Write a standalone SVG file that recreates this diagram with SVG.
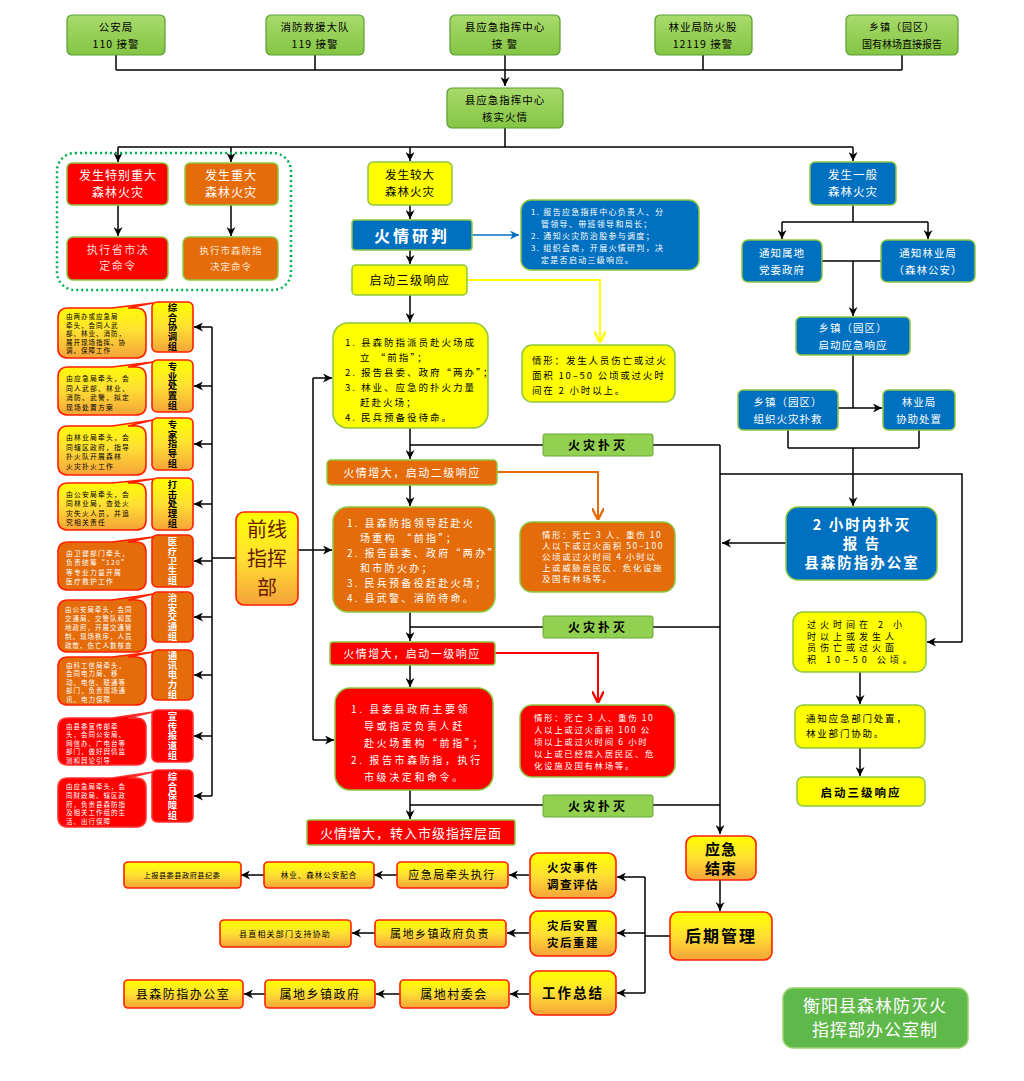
<svg xmlns="http://www.w3.org/2000/svg" width="1024" height="1081" viewBox="0 0 1024 1081">
<defs>
<linearGradient id="gGreen" x1="0" y1="0" x2="0" y2="1"><stop offset="0" stop-color="#A9DB6C"/><stop offset="1" stop-color="#84C444"/></linearGradient>
<linearGradient id="gYO" x1="0" y1="0" x2="0" y2="1"><stop offset="0" stop-color="#FFFF00"/><stop offset="0.5" stop-color="#FFE033"/><stop offset="1" stop-color="#F5A33A"/></linearGradient>
<marker id="ah" viewBox="0 0 10 10" refX="10" refY="5" markerWidth="9" markerHeight="9" markerUnits="userSpaceOnUse" orient="auto"><path d="M0,0 L10,5 L0,10 L3,5 Z" fill="#000"/></marker>
<marker id="ahB" viewBox="0 0 10 10" refX="10" refY="5" markerWidth="9" markerHeight="9" markerUnits="userSpaceOnUse" orient="auto"><path d="M0,0 L10,5 L0,10 L3,5 Z" fill="#0070C0"/></marker>
<marker id="ahY" viewBox="0 0 10 10" refX="10" refY="5" markerWidth="12" markerHeight="12" markerUnits="userSpaceOnUse" orient="auto"><path d="M0,0 L10,5 L0,10" fill="none" stroke="#FFFF00" stroke-width="2"/></marker>
<marker id="ahO" viewBox="0 0 10 10" refX="10" refY="5" markerWidth="12" markerHeight="12" markerUnits="userSpaceOnUse" orient="auto"><path d="M0,0 L10,5 L0,10" fill="none" stroke="#E46C0A" stroke-width="2"/></marker>
<marker id="ahR" viewBox="0 0 10 10" refX="10" refY="5" markerWidth="12" markerHeight="12" markerUnits="userSpaceOnUse" orient="auto"><path d="M0,0 L10,5 L0,10" fill="none" stroke="#FF0000" stroke-width="2"/></marker>
</defs>
<style>
text { font-family: "Noto Sans CJK SC", "Noto Sans", sans-serif; }
.c { stroke:#000; stroke-width:1.5; fill:none; }
.a { marker-end:url(#ah); }
.gbox { fill:url(#gGreen); stroke:#5A9E32; stroke-width:1.2; }
.ybox { fill:#FFFF00; stroke:#8DC63F; stroke-width:1.5; }
.obox { fill:#E46C0A; stroke:#8DC63F; stroke-width:1.5; }
.rbox { fill:#FF0000; stroke:#8DC63F; stroke-width:1.5; }
.bbox { fill:#0070C0; stroke:#8DC63F; stroke-width:1.5; }
.pbox { fill:url(#gYO); stroke:#FF2000; stroke-width:1.6; }
.po { fill:#E46C0A; stroke:#FF2000; stroke-width:1.6; }
.pr { fill:#FF0000; stroke:#FF3030; stroke-width:1.6; }
.fg { fill:#92D050; stroke:#6AA83A; stroke-width:1; }
.w { fill:#FFFFFF; }
.k { fill:#000000; }
.m { text-anchor:middle; }
.b { font-weight:bold; }
.v { writing-mode:vertical-rl; text-anchor:middle; font-size:9.4px; font-weight:bold; letter-spacing:0.3px; }
.cl { font-size:6.8px; letter-spacing:1.2px; }
.cl5 { font-size:6.5px; letter-spacing:1px; }
</style>

<g id="connectors">
  <path class="c" d="M116,55 V70 M315,55 V70 M703,55 V70 M902,55 V70 M116,70 H902"/>
  <path class="c a" d="M505,55 V86"/>
  <path class="c" d="M505,128 V147 M118,147 H853"/>
  <path class="c a" d="M118,147 V162"/>
  <path class="c a" d="M231,147 V162"/>
  <path class="c a" d="M410,147 V161"/>
  <path class="c a" d="M853,147 V161"/>
  <path class="c a" d="M118,205 V236"/>
  <path class="c a" d="M231,205 V236"/>
  <path class="c a" d="M410,205 V219"/>
  <path d="M472,235 H519" stroke="#0070C0" stroke-width="1.5" fill="none" marker-end="url(#ahB)"/>
  <path class="c a" d="M410,250 V264"/>
  <path d="M467,280 H600 V343" stroke="#FFFF00" stroke-width="2" fill="none" marker-end="url(#ahY)"/>
  <path class="c a" d="M410,295 V322"/>
  <path class="c a" d="M410,428 V459"/>
  <path class="c" d="M410,445 H720"/>
  <path class="c a" d="M720,445 V834"/>
  <path d="M497,472 H598 V520" stroke="#E46C0A" stroke-width="2" fill="none" marker-end="url(#ahO)"/>
  <path class="c a" d="M410,485 V506"/>
  <path class="c a" d="M410,612 V641"/>
  <path class="c" d="M410,627 H720"/>
  <path d="M495,653 H598 V703" stroke="#FF0000" stroke-width="2" fill="none" marker-end="url(#ahR)"/>
  <path class="c a" d="M410,665 V687"/>
  <path class="c a" d="M410,790 V819"/>
  <path class="c" d="M410,805 H720"/>
  <path class="c" d="M313,378 V740 M298,550 H313"/>
  <path class="c a" d="M313,378 H332"/>
  <path class="c a" d="M313,550 H332"/>
  <path class="c a" d="M313,740 H334"/>
  <path class="c" d="M212,327 V796 M236,558 H212"/>
  <path class="c a" d="M212,327 H194"/>
  <path class="c a" d="M212,386 H194"/>
  <path class="c a" d="M212,444 H194"/>
  <path class="c a" d="M212,504 H194"/>
  <path class="c a" d="M212,561 H194"/>
  <path class="c a" d="M212,617 H194"/>
  <path class="c a" d="M212,675 H194"/>
  <path class="c a" d="M212,736 H194"/>
  <path class="c a" d="M212,796 H194"/>
  <path class="c" d="M853,205 V222 M782,222 H928"/>
  <path class="c a" d="M782,222 V239"/>
  <path class="c a" d="M928,222 V239"/>
  <path class="c" d="M822,261 H881"/>
  <path class="c a" d="M853,261 V316"/>
  <path class="c" d="M853,355 V408 M838,408 H853"/>
  <path class="c a" d="M853,408 H882"/>
  <path class="c" d="M788,430 V448 M919,430 V448 M788,448 H919"/>
  <path class="c a" d="M853,448 V506"/>
  <path class="c" d="M720,474 H962 V642"/>
  <path class="c a" d="M962,642 H927"/>
  <path class="c a" d="M786,543 H722"/>
  <path class="c a" d="M860,672 V704"/>
  <path class="c a" d="M860,748 V776"/>
  <path class="c a" d="M720,880 V911"/>
  <path class="c" d="M670,936 H645 M645,877 V993"/>
  <path class="c a" d="M645,877 H617"/>
  <path class="c a" d="M645,933 H617"/>
  <path class="c a" d="M645,993 H617"/>
  <path class="c a" d="M529,875 H509"/>
  <path class="c a" d="M397,875 H374"/>
  <path class="c a" d="M264,875 H241"/>
  <path class="c a" d="M529,933 H507"/>
  <path class="c a" d="M375,933 H352"/>
  <path class="c a" d="M529,994 H510"/>
  <path class="c a" d="M400,994 H376"/>
  <path class="c a" d="M265,994 H244"/>
</g>

<g id="n-110"><rect class="gbox" x="67" y="15" width="98" height="40" rx="5"/><text class="k m" x="116" y="31" font-size="10.5" letter-spacing="1">公安局</text><text class="k m" x="116" y="48" font-size="10.5" letter-spacing="1">110 接警</text></g>
<g id="n-119"><rect class="gbox" x="266" y="15" width="98" height="40" rx="5"/><text class="k m" x="315" y="31" font-size="10.5" letter-spacing="1">消防救援大队</text><text class="k m" x="315" y="48" font-size="10.5" letter-spacing="1">119 接警</text></g>
<g id="n-center"><rect class="gbox" x="450" y="15" width="110" height="40" rx="5"/><text class="k m" x="505" y="31" font-size="10.5" letter-spacing="1">县应急指挥中心</text><text class="k m" x="505" y="48" font-size="10.5" letter-spacing="1">接  警</text></g>
<g id="n-12119"><rect class="gbox" x="655" y="15" width="97" height="40" rx="5"/><text class="k m" x="703" y="31" font-size="10.5" letter-spacing="1">林业局防火股</text><text class="k m" x="703" y="48" font-size="10.5" letter-spacing="1">12119 接警</text></g>
<g id="n-town"><rect class="gbox" x="846" y="15" width="112" height="40" rx="5"/><text class="k m" x="902" y="31" font-size="10" letter-spacing="1">乡镇（园区）</text><text class="k m" x="902" y="48" font-size="10">国有林场直接报告</text></g>
<g id="n-verify"><rect class="gbox" x="447" y="88" width="116" height="40" rx="5"/><text class="k m" x="505" y="104" font-size="10.5" letter-spacing="1">县应急指挥中心</text><text class="k m" x="505" y="121" font-size="10.5" letter-spacing="1">核实火情</text></g>

<g id="n-group-major"><rect x="57" y="153" width="234" height="137" rx="18" fill="none" stroke="#00B050" stroke-width="2.5" stroke-dasharray="2 3"/></g>
<g id="n-tebie"><rect class="rbox" x="67" y="163" width="101" height="42" rx="5" stroke="#C00000" stroke-width="0.8"/><text class="w m" x="118" y="180" font-size="12" letter-spacing="1">发生特别重大</text><text class="w m" x="118" y="197" font-size="12" letter-spacing="1">森林火灾</text></g>
<g id="n-zhongda"><rect class="obox" x="185" y="163" width="93" height="42" rx="5" stroke="#C06000" stroke-width="0.8"/><text class="w m" x="231" y="180" font-size="12" letter-spacing="1">发生重大</text><text class="w m" x="231" y="197" font-size="12" letter-spacing="1">森林火灾</text></g>
<g id="n-prov"><rect class="rbox" x="67" y="237" width="101" height="43" rx="6" stroke="#C00000" stroke-width="0.8"/><text class="m" fill="#FFD8D8" x="118" y="254" font-size="11" letter-spacing="1.5">执行省市决</text><text class="m" fill="#FFD8D8" x="118" y="270" font-size="11" letter-spacing="1.5">定命令</text></g>
<g id="n-city"><rect class="obox" x="183" y="237" width="95" height="43" rx="6" stroke="#C06000" stroke-width="0.8"/><text class="m" fill="#FFE6D0" x="231" y="254" font-size="9.5" letter-spacing="1">执行市森防指</text><text class="m" fill="#FFE6D0" x="231" y="270" font-size="9.5" letter-spacing="1">决定命令</text></g>

<g id="n-jiaoda"><rect class="ybox" x="368" y="162" width="84" height="43" rx="5"/><text class="k m" x="410" y="179" font-size="11.5" letter-spacing="1">发生较大</text><text class="k m" x="410" y="196" font-size="11.5" letter-spacing="1">森林火灾</text></g>
<g id="n-yanpan"><rect class="bbox" x="352" y="220" width="120" height="30" rx="3"/><text class="w m b" x="412" y="242" font-size="16" letter-spacing="3">火情研判</text></g>
<g id="n-yanpan-info"><rect class="bbox" x="521" y="200" width="178" height="70" rx="10"/>
<text class="w" font-size="8" letter-spacing="1.3"><tspan x="531" y="215">1. 报告应急指挥中心负责人、分</tspan><tspan x="541" y="227">管领导、带班领导和局长；</tspan><tspan x="531" y="239">2. 通知火灾防治股参与调度；</tspan><tspan x="531" y="251">3. 组织会商，开展火情研判，决</tspan><tspan x="541" y="263">定是否启动三级响应。</tspan></text></g>
<g id="n-lv3"><rect class="ybox" x="352" y="265" width="115" height="30" rx="4"/><text class="k m" x="410" y="285" font-size="12" letter-spacing="1.5">启动三级响应</text></g>
<g id="n-lv3-cond"><rect class="ybox" x="522" y="345" width="153" height="57" rx="10"/>
<text class="k" font-size="9.5" letter-spacing="1.8"><tspan x="532" y="364">情形：发生人员伤亡或过火</tspan><tspan x="532" y="379">面积 10–50 公顷或过火时</tspan><tspan x="532" y="394">间在 2 小时以上。</tspan></text></g>
<g id="n-lv3-act"><rect class="ybox" x="333" y="323" width="155" height="105" rx="15"/>
<text class="k" font-size="9.5" letter-spacing="2"><tspan x="345" y="346">1. 县森防指派员赴火场成</tspan><tspan x="360" y="361">立 “前指”；</tspan><tspan x="345" y="376">2. 报告县委、政府“两办”；</tspan><tspan x="345" y="391">3. 林业、应急的扑火力量</tspan><tspan x="360" y="406">赶赴火场；</tspan><tspan x="345" y="421">4. 民兵预备役待命。</tspan></text></g>
<g id="n-out1"><rect class="fg" x="543" y="434" width="110" height="22" rx="2"/><text class="k m b" x="598" y="450" font-size="12" letter-spacing="3">火灾扑灭</text></g>

<g id="n-lv2"><rect class="obox" x="327" y="460" width="170" height="25" rx="4"/><text class="w m" x="412" y="477" font-size="11" letter-spacing="1.5">火情增大，启动二级响应</text></g>
<g id="n-lv2-cond"><rect class="obox" x="520" y="522" width="155" height="70" rx="12"/>
<text class="w" font-size="8.5" letter-spacing="1.6"><tspan x="542" y="538">情形：死亡 3 人、重伤 10</tspan><tspan x="542" y="549">人以下或过火面积 50–100</tspan><tspan x="542" y="560">公顷或过火时间 4 小时以</tspan><tspan x="542" y="571">上或威胁居民区、危化设施</tspan><tspan x="542" y="582">及国有林场等。</tspan></text></g>
<g id="n-lv2-act"><rect class="obox" x="333" y="507" width="162" height="105" rx="15"/>
<text class="w" font-size="10" letter-spacing="2.3"><tspan x="347" y="527">1. 县森防指领导赶赴火</tspan><tspan x="360" y="542">场重构 “前指”；</tspan><tspan x="347" y="557">2. 报告县委、政府“两办”</tspan><tspan x="360" y="572">和市防火办；</tspan><tspan x="347" y="587">3. 民兵预备役赶赴火场；</tspan><tspan x="347" y="602">4. 县武警、消防待命。</tspan></text></g>
<g id="n-out2"><rect class="fg" x="543" y="616" width="110" height="22" rx="2"/><text class="k m b" x="598" y="632" font-size="12" letter-spacing="3">火灾扑灭</text></g>

<g id="n-lv1"><rect class="rbox" x="330" y="642" width="165" height="23" rx="3"/><text class="w m" x="412" y="658" font-size="11" letter-spacing="1.5">火情增大，启动一级响应</text></g>
<g id="n-lv1-cond"><rect class="rbox" x="520" y="705" width="155" height="72" rx="12"/>
<text class="w" font-size="8.5" letter-spacing="1.6"><tspan x="534" y="721">情形：死亡 3 人、重伤 10</tspan><tspan x="534" y="733">人以上或过火面积 100 公</tspan><tspan x="534" y="745">顷以上或过火时间 6 小时</tspan><tspan x="534" y="757">以上或已经烧入居民区、危</tspan><tspan x="534" y="769">化设施及国有林场等。</tspan></text></g>
<g id="n-lv1-act"><rect class="rbox" x="335" y="688" width="158" height="102" rx="15"/>
<text class="w" font-size="10" letter-spacing="2.6"><tspan x="351" y="713">1. 县委县政府主要领</tspan><tspan x="364" y="730">导或指定负责人赶</tspan><tspan x="364" y="747">赴火场重构“前指”；</tspan><tspan x="351" y="764">2. 报告市森防指，执行</tspan><tspan x="364" y="781">市级决定和命令。</tspan></text></g>
<g id="n-out3"><rect class="fg" x="543" y="795" width="110" height="22" rx="2"/><text class="k m b" x="598" y="811" font-size="12" letter-spacing="3">火灾扑灭</text></g>
<g id="n-city-level"><rect class="rbox" x="307" y="820" width="208" height="25" rx="2"/><text class="w m" x="411" y="838" font-size="13" letter-spacing="1">火情增大，转入市级指挥层面</text></g>

<g id="n-front"><rect class="pbox" x="236" y="512" width="62" height="93" rx="8"/><text class="m" fill="#6B1A00" x="267" y="537" font-size="20">前线</text><text class="m" fill="#6B1A00" x="267" y="566" font-size="20">指挥</text><text class="m" fill="#6B1A00" x="267" y="595" font-size="20">部</text></g>

<g id="n-g1">
<path class="pbox" d="M68,308 L112,308 L153,303 L128,308 L136,308 Q146,308 146,318 L146,348 Q146,358 136,358 L68,358 Q58,358 58,348 L58,318 Q58,308 68,308 Z"/>
<text class="k cl5"><tspan x="66" y="319">由两办或应急局</tspan><tspan x="66" y="327.6">牵头，会同人武</tspan><tspan x="66" y="336.2">部、林业、消防，</tspan><tspan x="66" y="344.8">展开现场指挥、协</tspan><tspan x="66" y="353.4">调、保障工作</tspan></text>
<rect class="pbox" x="152" y="302" width="41" height="50" rx="5"/>
<text class="k v" x="172.5" y="327">综合协调组</text>
</g>
<g id="n-g2">
<path class="pbox" d="M68,367 L112,367 L153,362 L128,367 L136,367 Q146,367 146,377 L146,405 Q146,415 136,415 L68,415 Q58,415 58,405 L58,377 Q58,367 68,367 Z"/>
<text class="k cl"><tspan x="66" y="381">由应急局牵头，会</tspan><tspan x="66" y="390.5">同人武部、林业、</tspan><tspan x="66" y="400">消防、武警，拟定</tspan><tspan x="66" y="409.5">现场处置方案</tspan></text>
<rect class="pbox" x="152" y="360" width="41" height="52" rx="5"/>
<text class="k v" x="172.5" y="386">专业处置组</text>
</g>
<g id="n-g3">
<path class="pbox" d="M68,426 L112,426 L153,420 L128,426 L136,426 Q146,426 146,436 L146,465 Q146,475 136,475 L68,475 Q58,475 58,465 L58,436 Q58,426 68,426 Z"/>
<text class="k cl"><tspan x="66" y="440">由林业局牵头，会</tspan><tspan x="66" y="449.5">同辖区政府，指导</tspan><tspan x="66" y="459">扑火队开展森林</tspan><tspan x="66" y="468.5">火灾扑火工作</tspan></text>
<rect class="pbox" x="152" y="418" width="41" height="52" rx="5"/>
<text class="k v" x="172.5" y="444">专家指导组</text>
</g>
<g id="n-g4">
<path class="pbox" d="M68,483 L112,483 L153,479 L128,483 L136,483 Q146,483 146,493 L146,520 Q146,530 136,530 L68,530 Q58,530 58,520 L58,493 Q58,483 68,483 Z"/>
<text class="k cl"><tspan x="66" y="496.5">由公安局牵头，会</tspan><tspan x="66" y="506">同林业局，查处火</tspan><tspan x="66" y="515.5">灾失火人员，并追</tspan><tspan x="66" y="525">究相关责任</tspan></text>
<rect class="pbox" x="152" y="478" width="41" height="52" rx="5"/>
<text class="k v" x="172.5" y="504">打击处理组</text>
</g>
<g id="n-g5">
<path class="po" d="M68,542 L112,542 L153,537 L128,542 L136,542 Q146,542 146,552 L146,580 Q146,590 136,590 L68,590 Q58,590 58,580 L58,552 Q58,542 68,542 Z"/>
<text class="w cl"><tspan x="66" y="555.5">由卫健部门牵头，</tspan><tspan x="66" y="565">负责统筹“120”</tspan><tspan x="66" y="574.5">等专业力量开展</tspan><tspan x="66" y="584">医疗救护工作</tspan></text>
<rect class="po" x="152" y="535" width="41" height="52" rx="5"/>
<text class="w v" x="172.5" y="561">医疗卫生组</text>
</g>
<g id="n-g6">
<path class="po" d="M68,600 L112,600 L153,594 L128,600 L136,600 Q146,600 146,610 L146,642 Q146,652 136,652 L68,652 Q58,652 58,642 L58,610 Q58,600 68,600 Z"/>
<text class="w cl5" letter-spacing="0.8"><tspan x="65" y="612">由公安局牵头，会同</tspan><tspan x="65" y="621">交通局、交警队和属</tspan><tspan x="65" y="630">地政府，开展交通管</tspan><tspan x="65" y="639">制、现场秩序，人员</tspan><tspan x="65" y="648">疏散、伤亡人数核查</tspan></text>
<rect class="po" x="152" y="592" width="41" height="50" rx="5"/>
<text class="w v" x="172.5" y="617">治安交通组</text>
</g>
<g id="n-g7">
<path class="po" d="M68,657 L112,657 L153,652 L128,657 L136,657 Q146,657 146,667 L146,695 Q146,705 136,705 L68,705 Q58,705 58,695 L58,667 Q58,657 68,657 Z"/>
<text class="w cl5"><tspan x="66" y="667.5">由科工信局牵头，</tspan><tspan x="66" y="676">会同电力局、移</tspan><tspan x="66" y="684.5">动、电信、联通等</tspan><tspan x="66" y="693">部门，负责现场通</tspan><tspan x="66" y="701.5">讯、电力保障</tspan></text>
<rect class="po" x="152" y="650" width="41" height="50" rx="5"/>
<text class="w v" x="172.5" y="675">通讯电力组</text>
</g>
<g id="n-g8">
<path class="pr" d="M68,718 L112,718 L153,712 L128,718 L136,718 Q146,718 146,728 L146,755 Q146,765 136,765 L68,765 Q58,765 58,755 L58,728 Q58,718 68,718 Z"/>
<text class="w cl5"><tspan x="66" y="728.5">由县委宣传部牵</tspan><tspan x="66" y="737">头，会同公安局、</tspan><tspan x="66" y="745.5">网信办、广电台等</tspan><tspan x="66" y="754">部门，做好舆情监</tspan><tspan x="66" y="762.5">测和舆论引导</tspan></text>
<rect class="pr" x="152" y="710" width="41" height="52" rx="5"/>
<text class="w v" x="172.5" y="736">宣传报道组</text>
</g>
<g id="n-g9">
<path class="pr" d="M68,778 L112,778 L153,772 L128,778 L136,778 Q146,778 146,788 L146,817 Q146,827 136,827 L68,827 Q58,827 58,817 L58,788 Q58,778 68,778 Z"/>
<text class="w cl5"><tspan x="66" y="789">由应急局牵头，会</tspan><tspan x="66" y="797.8">同财政局、辖区政</tspan><tspan x="66" y="806.6">府，负责县森防指</tspan><tspan x="66" y="815.4">及相关工作组的生</tspan><tspan x="66" y="824.2">活、出行保障</tspan></text>
<rect class="pr" x="152" y="770" width="41" height="52" rx="5"/>
<text class="w v" x="172.5" y="796">综合保障组</text>
</g>

<g id="n-yiban"><rect class="bbox" x="810" y="162" width="86" height="43" rx="5"/><text class="w m" x="853" y="179" font-size="11.5" letter-spacing="1">发生一般</text><text class="w m" x="853" y="196" font-size="11.5" letter-spacing="1">森林火灾</text></g>
<g id="n-notify-party"><rect class="bbox" x="742" y="240" width="80" height="42" rx="6"/><text class="w m" x="782" y="257" font-size="10.5" letter-spacing="1">通知属地</text><text class="w m" x="782" y="274" font-size="10.5" letter-spacing="1">党委政府</text></g>
<g id="n-notify-forest"><rect class="bbox" x="881" y="240" width="94" height="42" rx="6"/><text class="w m" x="928" y="257" font-size="10.5" letter-spacing="1">通知林业局</text><text class="w m" x="928" y="274" font-size="10.5" letter-spacing="1">（森林公安）</text></g>
<g id="n-town-resp"><rect class="bbox" x="796" y="317" width="114" height="38" rx="5"/><text class="w m" x="853" y="332" font-size="10.5" letter-spacing="1">乡镇（园区）</text><text class="w m" x="853" y="349" font-size="10.5" letter-spacing="1">启动应急响应</text></g>
<g id="n-town-fight"><rect class="bbox" x="738" y="390" width="100" height="40" rx="5"/><text class="w m" x="788" y="406" font-size="10.5" letter-spacing="1">乡镇（园区）</text><text class="w m" x="788" y="423" font-size="10.5" letter-spacing="1">组织火灾扑救</text></g>
<g id="n-forest-assist"><rect class="bbox" x="883" y="390" width="72" height="40" rx="5"/><text class="w m" x="919" y="406" font-size="10.5" letter-spacing="1">林业局</text><text class="w m" x="919" y="423" font-size="10.5" letter-spacing="1">协助处置</text></g>
<g id="n-2h"><rect class="bbox" x="786" y="507" width="151" height="73" rx="12"/><text class="w m b" x="862" y="530" font-size="14.5" letter-spacing="2">2 小时内扑灭</text><text class="w m b" x="862" y="549" font-size="14.5" letter-spacing="2">报  告</text><text class="w m b" x="862" y="568" font-size="14.5" letter-spacing="2">县森防指办公室</text></g>
<g id="n-over2h"><rect class="ybox" x="793" y="612" width="133" height="60" rx="10"/>
<text class="k" font-size="9" letter-spacing="4"><tspan x="807" y="628">过火时间在 2 小</tspan><tspan x="807" y="639.5">时以上或发生人</tspan><tspan x="807" y="651">员伤亡或过火面</tspan><tspan x="807" y="662.5">积 10–50 公顷。</tspan></text></g>
<g id="n-notify-em"><rect class="ybox" x="795" y="705" width="130" height="43" rx="8"/><text class="k" font-size="9.5" letter-spacing="1.8"><tspan x="806" y="722">通知应急部门处置，</tspan><tspan x="806" y="737">林业部门协助。</tspan></text></g>
<g id="n-lv3b"><rect class="ybox" x="797" y="777" width="128" height="29" rx="6" stroke-width="2"/><text class="k m b" x="861" y="797" font-size="11.5" letter-spacing="2">启动三级响应</text></g>

<g id="n-end"><rect class="pbox" x="686" y="836" width="70" height="44" rx="8"/><text class="k m b" x="721" y="855" font-size="15" letter-spacing="1">应急</text><text class="k m b" x="721" y="874" font-size="15" letter-spacing="1">结束</text></g>
<g id="n-post"><rect class="pbox" x="670" y="912" width="102" height="48" rx="8"/><text class="k m b" x="721" y="942" font-size="16" letter-spacing="2">后期管理</text></g>
<g id="n-investigate"><rect class="pbox" x="530" y="853" width="86" height="45" rx="8"/><text class="k m b" x="573" y="872" font-size="11.5" letter-spacing="1.5">火灾事件</text><text class="k m b" x="573" y="889" font-size="11.5" letter-spacing="1.5">调查评估</text></g>
<g id="n-rebuild"><rect class="pbox" x="530" y="911" width="86" height="45" rx="8"/><text class="k m b" x="573" y="930" font-size="11.5" letter-spacing="1.5">灾后安置</text><text class="k m b" x="573" y="947" font-size="11.5" letter-spacing="1.5">灾后重建</text></g>
<g id="n-summary"><rect class="pbox" x="530" y="971" width="86" height="44" rx="8"/><text class="k m b" x="573" y="998" font-size="13.5" letter-spacing="2">工作总结</text></g>
<g id="n-r1a"><rect class="pbox" x="397" y="862" width="111" height="26" rx="4"/><text class="k m" x="452" y="879" font-size="11" letter-spacing="1.5">应急局牵头执行</text></g>
<g id="n-r1b"><rect class="pbox" x="264" y="862" width="110" height="26" rx="4"/><text class="k m" x="319" y="878" font-size="7.5" letter-spacing="1">林业、森林公安配合</text></g>
<g id="n-r1c"><rect class="pbox" x="124" y="862" width="117" height="26" rx="4"/><text class="k m" x="182" y="878" font-size="7.2" letter-spacing="0.5">上报县委县政府县纪委</text></g>
<g id="n-r2a"><rect class="pbox" x="375" y="920" width="131" height="27" rx="4"/><text class="k m" x="440" y="938" font-size="11" letter-spacing="1.5">属地乡镇政府负责</text></g>
<g id="n-r2b"><rect class="pbox" x="220" y="920" width="131" height="27" rx="4"/><text class="k m" x="285" y="937" font-size="8" letter-spacing="1.2">县直相关部门支持协助</text></g>
<g id="n-r3a"><rect class="pbox" x="400" y="980" width="109" height="28" rx="4"/><text class="k m" x="454" y="999" font-size="12" letter-spacing="1.5">属地村委会</text></g>
<g id="n-r3b"><rect class="pbox" x="265" y="980" width="110" height="28" rx="4"/><text class="k m" x="320" y="999" font-size="12" letter-spacing="1.5">属地乡镇政府</text></g>
<g id="n-r3c"><rect class="pbox" x="124" y="980" width="119" height="28" rx="4"/><text class="k m" x="183" y="999" font-size="12" letter-spacing="1.5">县森防指办公室</text></g>

<g id="n-sign"><rect x="783" y="988" width="185" height="60" rx="10" fill="#5FB84A" stroke="#9AD46E" stroke-width="1.5"/><text class="w m" x="875" y="1012" font-size="17" letter-spacing="1">衡阳县森林防灭火</text><text class="w m" x="875" y="1036" font-size="17" letter-spacing="1">指挥部办公室制</text></g>
</svg>
